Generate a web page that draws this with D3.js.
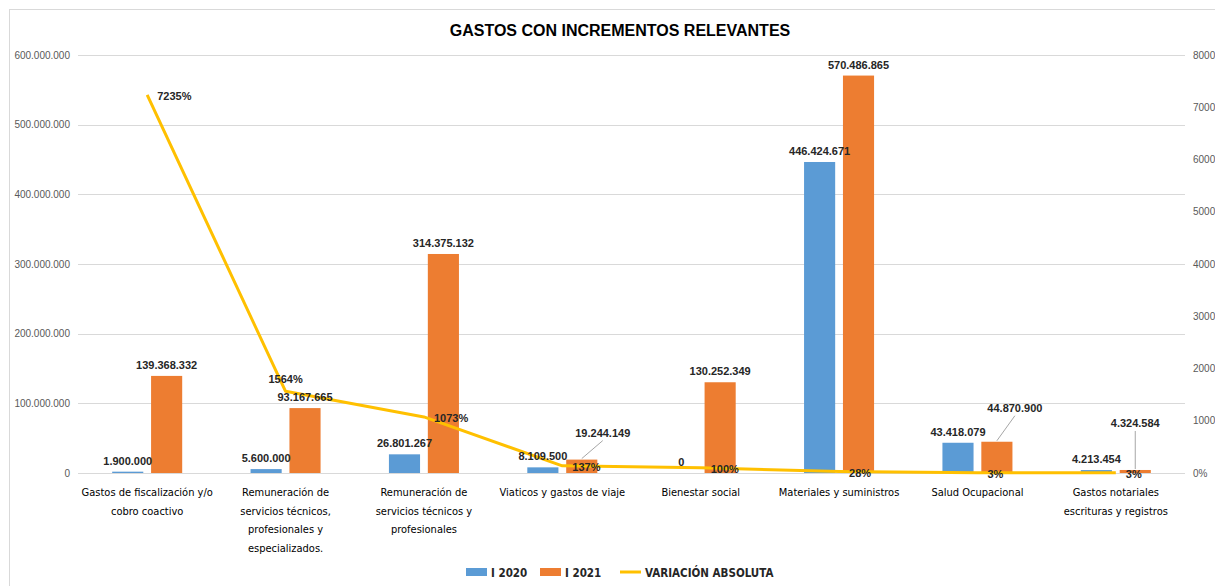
<!DOCTYPE html>
<html>
<head>
<meta charset="utf-8">
<script src="https://cdn.jsdelivr.net/npm/d3@7"></script>
<style>
  body { margin: 0; background: #fff; }
  svg { display: block; }
  .narrow { font-family: "Liberation Sans Narrow", "DejaVu Sans Condensed", sans-serif; }
  .sans { font-family: "Liberation Sans", Arial, sans-serif; }
</style>
</head>
<body>
<script>
// === DATA ===
var categories = [
  "Gastos de fiscalización y/o\ncobro coactivo",
  "Remuneración de\nservicios técnicos,\nprofesionales y\nespecializados.",
  "Remuneración de\nservicios técnicos y\nprofesionales",
  "Viaticos y gastos de viaje",
  "Bienestar social",
  "Materiales y suministros",
  "Salud Ocupacional",
  "Gastos notariales\nescrituras y registros"
];
var values2020 = [1900000, 5600000, 26801267, 8109500, 0, 446424671, 43418079, 4213454];
var values2021 = [139368332, 93167665, 314375132, 19244149, 130252349, 570486865, 44870900, 4324584];
var variacion = [7235, 1564, 1073, 137, 100, 28, 3, 3];
var leftTicks = [0, 100000000, 200000000, 300000000, 400000000, 500000000, 600000000];
var rightTicks = [0, 1000, 2000, 3000, 4000, 5000, 6000, 7000, 8000];
var seriesNames = ["I 2020", "I 2021", "VARIACIÓN ABSOLUTA"];

// colours
var blue = "#5B9BD5", orange = "#ED7D31", gold = "#FFC000";

var W = 1215, H = 586;
var plotL = 78, plotR = 1185, plotT = 55, plotB = 473;

var svg = d3.select("body").append("svg")
  .attr("width", W)
  .attr("height", H);

// chart frame
svg.append("rect")
  .attr("x", 9.5).attr("y", 9.5)
  .attr("width", W + 20).attr("height", H + 20)
  .attr("fill", "none")
  .attr("stroke", "#D9D9D9");

// title
svg.append("text")
  .attr("x", 620).attr("y", 36)
  .attr("text-anchor", "middle")
  .attr("class", "sans")
  .style("font-weight", "bold")
  .style("font-size", "16px")
  .attr("fill", "#000")
  .text("GASTOS CON INCREMENTOS RELEVANTES");

// scales
var x0 = d3.scaleBand()
  .domain(d3.range(categories.length))
  .range([plotL, plotR])
  .paddingInner(0.494)
  .paddingOuter(0.247);
var x1 = d3.scaleBand()
  .domain([0, 1])
  .range([0, x0.bandwidth()])
  .paddingInner(0.2);
var yL = d3.scaleLinear().domain([0, 600000000]).range([plotB, plotT]);
var yR = d3.scaleLinear().domain([0, 8000]).range([plotB, plotT]);

var fmtNum = function(d) { return d3.format(",")(d).replace(/,/g, "."); };

// gridlines
svg.append("g")
  .selectAll("line")
  .data(leftTicks)
  .enter().append("line")
  .attr("x1", plotL).attr("x2", plotR)
  .attr("y1", function(d) { return Math.round(yL(d)) + 0.5; })
  .attr("y2", function(d) { return Math.round(yL(d)) + 0.5; })
  .attr("stroke", "#D9D9D9")
  .attr("stroke-width", 1);

// left axis
var axL = svg.append("g")
  .attr("transform", "translate(" + (plotL - 8) + ",0)")
  .call(d3.axisLeft(yL).tickValues(leftTicks).tickFormat(fmtNum).tickSize(0).tickPadding(0));
axL.select(".domain").remove();
axL.selectAll("text").attr("class", "sans").attr("fill", "#595959").style("font-size", "10px");

// right axis
var axR = svg.append("g")
  .attr("transform", "translate(" + (plotR + 8) + ",0)")
  .call(d3.axisRight(yR).tickValues(rightTicks).tickFormat(function(d) { return d + "%"; }).tickSize(0).tickPadding(0));
axR.select(".domain").remove();
axR.selectAll("text").attr("class", "sans").attr("fill", "#595959").style("font-size", "10px");

// bars
var groups = svg.append("g")
  .selectAll("g")
  .data(categories)
  .enter().append("g")
  .attr("transform", function(d, i) { return "translate(" + x0(i) + ",0)"; });

groups.append("rect")
  .attr("x", x1(0))
  .attr("width", x1.bandwidth())
  .attr("y", function(d, i) { return yL(values2020[i]); })
  .attr("height", function(d, i) { return plotB - yL(values2020[i]); })
  .attr("fill", blue);

groups.append("rect")
  .attr("x", x1(1))
  .attr("width", x1.bandwidth())
  .attr("y", function(d, i) { return yL(values2021[i]); })
  .attr("height", function(d, i) { return plotB - yL(values2021[i]); })
  .attr("fill", orange);

// line
var line = d3.line()
  .x(function(d, i) { return x0(i) + x0.bandwidth() / 2; })
  .y(function(d) { return yR(d); });

svg.append("path")
  .datum(variacion)
  .attr("d", line)
  .attr("fill", "none")
  .attr("stroke", gold)
  .attr("stroke-width", 3)
  .attr("stroke-linejoin", "round");

// bar labels
// nudges for labels that Excel moved off the bar (with leader line)
var nudge2021 = { 3: [21, -16], 6: [18, -23], 7: [0, -36] };

function barLabel(vals, k, nudge) {
  vals.forEach(function(v, i) {
    var cx = x0(i) + x1(k) + x1.bandwidth() / 2;
    var ty = yL(v) - 7;
    var n = nudge[i];
    if (n) {
      var lx = cx + n[0], ly = ty + n[1];
      svg.append("line")
        .attr("x1", cx).attr("y1", yL(v) - 1)
        .attr("x2", lx).attr("y2", ly + 4)
        .attr("stroke", "#A6A6A6").attr("stroke-width", 1);
      cx = lx; ty = ly;
    }
    svg.append("text")
      .attr("class", "sans")
      .attr("x", cx).attr("y", ty)
      .attr("text-anchor", "middle")
      .style("font-size", "11px")
      .style("font-weight", "bold")
      .attr("fill", "#262626")
      .text(fmtNum(v));
  });
}
barLabel(values2020, 0, {});
barLabel(values2021, 1, nudge2021);

// line labels
svg.append("g")
  .selectAll("text")
  .data(variacion)
  .enter().append("text")
  .attr("class", "sans")
  .attr("x", function(d, i) { return x0(i) + x0.bandwidth() / 2 + (i == 1 ? 0 : 10); })
  .attr("y", function(d, i) { return yR(d) + (i == 1 ? -8 : 5); })
  .attr("text-anchor", function(d, i) { return i == 1 ? "middle" : "start"; })
  .style("font-size", "11px")
  .style("font-weight", "bold")
  .attr("fill", "#262626")
  .text(function(d) { return d + "%"; });

// category labels
groups.append("text")
  .attr("class", "narrow")
  .attr("x", x0.bandwidth() / 2)
  .attr("y", 496)
  .attr("text-anchor", "middle")
  .style("font-size", "11px")
  .attr("fill", "#000")
  .each(function(d) {
    var t = d3.select(this);
    d.split("\n").forEach(function(s, j) {
      t.append("tspan")
        .attr("x", x0.bandwidth() / 2)
        .attr("dy", j == 0 ? 0 : 18.5)
        .text(s);
    });
  });

// legend
var legend = svg.append("g").attr("class", "narrow");
var legX = [466, 540, 620];
seriesNames.forEach(function(name, i) {
  var g = legend.append("g").attr("transform", "translate(" + legX[i] + ",572)");
  if (i < 2) {
    g.append("rect").attr("x", 0).attr("y", -4).attr("width", 21).attr("height", 8)
      .attr("fill", i == 0 ? blue : orange);
  } else {
    g.append("line").attr("x1", 0).attr("x2", 21).attr("y1", 0).attr("y2", 0)
      .attr("stroke", gold).attr("stroke-width", 3);
  }
  g.append("text")
    .attr("x", 25).attr("y", 5)
    .style("font-size", "11.5px")
    .style("font-weight", "bold")
    .attr("fill", "#262626")
    .text(name);
});
</script>
</body>
</html>
